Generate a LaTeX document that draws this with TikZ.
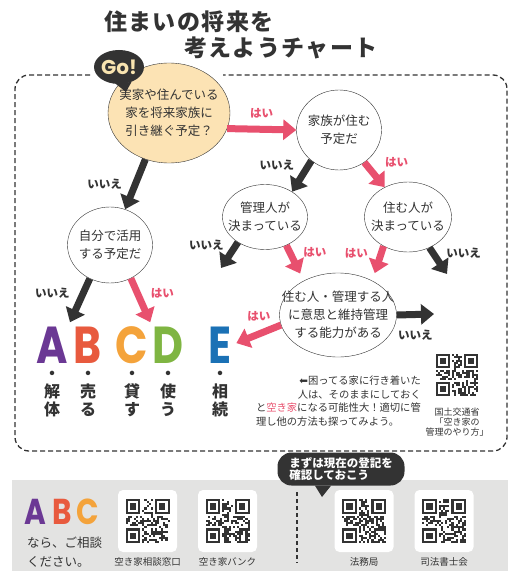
\documentclass[tikz,border=0pt]{standalone}
\usepackage{fontspec}
\setmainfont{Noto Sans CJK JP}
\newfontfamily\titlefont{Noto Sans CJK JP}[LetterSpace=6]
\newfontfamily\letterfont{Poppins}
\newfontfamily\symbolfont{DejaVu Sans}
\usetikzlibrary{arrows.meta,shapes.geometric,positioning}
\definecolor{ink}{HTML}{333333}
\definecolor{yescol}{HTML}{E8506E}
\definecolor{startfill}{HTML}{FCE3B4}
\definecolor{panelgray}{HTML}{E3E3E2}
\definecolor{goink}{HTML}{F8E4B0}
\definecolor{letA}{HTML}{6B3894}
\definecolor{letB}{HTML}{E85A3E}
\definecolor{letC}{HTML}{F4A33B}
\definecolor{letD}{HTML}{7FB542}
\definecolor{letE}{HTML}{1B71B5}
\tikzset{
    frame/.style={draw=ink,line width=1.3pt,dash pattern=on 5pt off 3pt,rounded corners=14pt},
    question/.style={ellipse,draw=ink,thin,fill=white,inner sep=-30pt,align=center,text=ink,font=\fontsize{12.5}{18}\selectfont},
    yes/.style={draw=yescol,line width=7pt,-{Triangle[width=20pt,length=13pt]},shorten >=#1},
    yes/.default=0pt,
    no/.style={draw=ink,line width=7pt,-{Triangle[width=20pt,length=13pt]},shorten >=#1},
    no/.default=0pt,
    yeslabel/.style={text=yescol,inner sep=0pt,font=\fontsize{11.5}{12}\selectfont\bfseries},
    nolabel/.style={text=ink,inner sep=0pt,font=\fontsize{11.5}{12}\selectfont\bfseries},
    letter/.style={inner sep=0pt,text height=36pt,text depth=0pt,font=\letterfont\bfseries\fontsize{52}{52}\selectfont},
    smallletter/.style={inner sep=0pt,text height=25pt,text depth=0pt,font=\letterfont\bfseries\fontsize{36}{36}\selectfont},
    word/.style={inner sep=0pt,align=center,text=ink,font=\fontsize{16}{18}\selectfont\bfseries},
    note/.style={inner sep=0pt,text=ink,font=\fontsize{10.3}{13.5}\selectfont},
    qrbox/.style={fill=white,rounded corners=5pt,minimum width=59pt,minimum height=62pt},
    qrlabel/.style={inner sep=0pt,text=ink,font=\fontsize{9.5}{10}\selectfont},
    pics/qrcode/.style 2 args={code={
        \pgfmathsetseed{#1}
        \foreach \i in {0,...,20}{
            \foreach \j in {0,...,20}{
                \pgfmathrandominteger{\bit}{0}{1}
                \ifnum\bit=1\relax
                    \fill[ink] (\i*#2,\j*#2) rectangle ++(#2,#2);
                \fi
            }
        }
        \foreach \fx/\fy/\sx/\sy in {0/0/0/0,14/0/13/0,0/14/0/13}{
            \fill[white] (\sx*#2,\sy*#2) rectangle ++(8*#2,8*#2);
            \fill[ink] (\fx*#2,\fy*#2) rectangle ++(7*#2,7*#2);
            \fill[white] (\fx*#2+#2,\fy*#2+#2) rectangle ++(5*#2,5*#2);
            \fill[ink] (\fx*#2+2*#2,\fy*#2+2*#2) rectangle ++(3*#2,3*#2);
        }
    }}
}

\begin{document}
\begin{tikzpicture}[x=1pt,y=-1pt]
  \useasboundingbox (0,0) rectangle (515,575);

  % Title
  \node[anchor=west,inner sep=0pt,text=ink,font=\titlefont\bfseries\fontsize{23}{23}\selectfont] (title1) at (104,22) {住まいの将来を};
  \node[anchor=west,inner sep=0pt,text=ink,font=\titlefont\bfseries\fontsize{23}{23}\selectfont] (title2) at (184,48) {考えようチャート};

  % Frame
  \draw[frame] (90,75) -| (15,451) -| (507,75) -- (223,75);

  % Questions
  \node[question,fill=startfill,minimum width=122pt,minimum height=100pt] (start) at (169,113) {実家や住んでいる\\家を将来家族に\\引き継ぐ予定？};
  \node[question,minimum width=85pt,minimum height=80pt] (family) at (339,130) {家族が住む\\予定だ};
  \node[question,minimum width=85pt,minimum height=65pt] (manager) at (265,217) {管理人が\\決まっている};
  \node[question,minimum width=87pt,minimum height=70pt] (live) at (408,217) {住む人が\\決まっている};
  \node[question,minimum width=117pt,minimum height=84pt] (able) at (338,315) {住む人・管理する人\\に意思と維持管理\\する能力がある};
  \node[question,minimum width=85pt,minimum height=76pt] (self) at (110,245) {自分で活用\\する予定だ};

  % Go!
  \coordinate (gotail) at (126,92);
  \node[ellipse,fill=ink,text=goink,inner sep=-30pt,minimum width=50pt,minimum height=34pt,font=\letterfont\bfseries\fontsize{20}{20}\selectfont] (go) at (119,67) {Go!};
  \fill[ink] (go.-100) -- (gotail) -- (go.-50) -- cycle;

  % Results
  \node[letter,text=letA] (Aletter) at (52,345) {\scalebox{0.82}[1]{A}};
  \node[letter,text=letB] (Bletter) at (88,345) {\scalebox{0.82}[1]{B}};
  \node[letter,text=letC] (Cletter) at (132,345) {\scalebox{0.82}[1]{C}};
  \node[letter,text=letD] (Dletter) at (168,345) {\scalebox{0.82}[1]{D}};
  \node[letter,text=letE] (Eletter) at (220,345) {\scalebox{0.82}[1]{E}};
  \node[word,below=8pt of Aletter] (Aword) {・\\解\\体};
  \node[word,below=8pt of Bletter] (Bword) {・\\売\\る};
  \node[word,below=8pt of Cletter] (Cword) {・\\貸\\す};
  \node[word,below=8pt of Dletter] (Dword) {・\\使\\う};
  \node[word,below=8pt of Eletter] (Eword) {・\\相\\続};

  % Answers
  \coordinate (mgrno) at (221,268);
  \coordinate (liveno) at (447,274);
  \coordinate (ableno) at (434,314);
  \draw[yes] (start.-15) -- (family.west) node[yeslabel,midway,above=8pt] {はい};
  \draw[no] (start.243) -- (self.67) node[nolabel,midway,left=10pt] {いいえ};
  \draw[no] (family.228) -- (manager.43) node[nolabel,midway,above left=2pt and 4pt] {いいえ};
  \draw[yes] (family.308) -- (live.128) node[yeslabel,midway,above right=4pt and 7pt] {はい};
  \draw[no] (manager.223) -- (mgrno) node[nolabel,pos=0.1,left=9pt] {いいえ};
  \draw[yes=8pt] (manager.307) -- (able.135) node[yeslabel,pos=0.2,right=10pt] {はい};
  \draw[yes=8pt] (live.230) -- (able.45) node[yeslabel,pos=0.2,left=10pt] {はい};
  \draw[no] (live.305) -- (liveno) node[nolabel,pos=0.2,right=10pt] {いいえ};
  \draw[yes=5pt] (able.190) -- (Eletter.east) node[yeslabel,pos=0.45,above=9pt] {はい};
  \draw[no] (able.east) -- (ableno) node[nolabel,midway,below=12pt] {いいえ};
  \draw[no=5pt] (self.239) -- (Aletter.north east) node[nolabel,pos=0.3,left=10pt] {いいえ};
  \draw[yes=5pt] (self.302) -- (Dletter.north west) node[yeslabel,pos=0.3,right=10pt] {はい};

  % Note
  \node[note,anchor=north east,align=right] (note) at (421,376) {{\symbolfont ⬅}困ってる家に行き着いた\\人は、そのままにしておく\\と{\color{yescol}空き家}になる可能性大！適切に管};
  \node[note,anchor=north west] (notelast) at ([yshift=-3.5pt]note.south west) {理し他の方法も探ってみよう。};
  \pic at (436,354) {qrcode={7}{2}};
  \node[qrlabel,align=center,font=\fontsize{9}{10}\selectfont] (mlit) at (457,422) {国土交通省\\「空き家の\\管理のやり方」};

  % Contacts
  \fill[panelgray] (12,480) rectangle (508,571);
  \node[smallletter,text=letA] (Asmall) at (35,512) {\scalebox{0.82}[1]{A}};
  \node[smallletter,text=letB] (Bsmall) at (62,512) {\scalebox{0.82}[1]{B}};
  \node[smallletter,text=letC] (Csmall) at (88,512) {\scalebox{0.82}[1]{C}};
  \node[anchor=west,align=left,inner sep=0pt,text=ink,font=\fontsize{12.5}{19}\selectfont] (consult) at (27,552) {なら、ご相談\\ください。};
  \foreach \qx/\seed/\name in {147.5/11/空き家相談窓口,227.5/23/空き家バンク,364/37/法務局,444/41/司法書士会}{
    \node[qrbox] (qr\seed) at (\qx,521) {};
    \pic at (\qx-22,499) {qrcode={\seed}{2.1}};
    \node[qrlabel] (label\seed) at (\qx,562) {\name};
  }
  \draw[ink,line width=1.3pt,dash pattern=on 4pt off 3pt] (297,492) -- (297,563);

  % Registry bubble
  \coordinate (talktail) at (322,497);
  \node[fill=ink,rounded corners=14pt,text=white,align=left,minimum width=127pt,minimum height=33pt,inner sep=2pt,font=\fontsize{11.5}{12.5}\selectfont\bfseries] (talk) at (341,469) {まずは現在の登記を\\確認しておこう};
  \fill[ink] ([xshift=-26pt]talk.south) -- (talktail) -- ([xshift=-10pt]talk.south) -- cycle;
\end{tikzpicture}
\end{document}
